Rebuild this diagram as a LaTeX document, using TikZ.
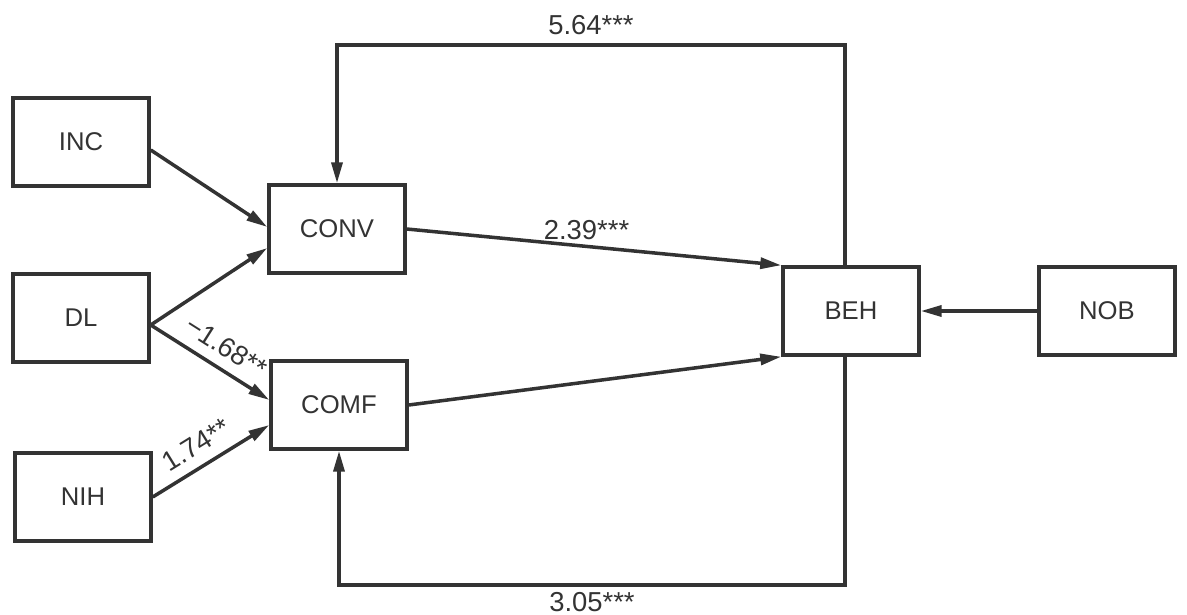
\documentclass[tikz,border=0pt]{standalone}
\usepackage{fontspec}
\setmainfont{Liberation Sans}
\usetikzlibrary{arrows.meta}

\begin{document}
\begin{tikzpicture}[x=0.02cm, y=-0.02cm, >={Triangle[length=0.42cm, width=0.22cm]},
    line width=2pt, color=black!80,
    var/.style={rectangle, draw, minimum width=2.72cm, minimum height=1.76cm,
                inner sep=0pt, font=\fontsize{14.6}{16}\selectfont},
    coef/.style={font=\fontsize{15.6}{17}\selectfont, inner sep=3pt}]

    \useasboundingbox (0,0) rectangle (1187,615);

    \node[var] (INC) at (81,142) {INC};
    \node[var] (DL) at (81,318) {DL};
    \node[var] (NIH) at (83,497) {NIH};
    \node[var] (CONV) at (337,229) {CONV};
    \node[var] (COMF) at (339,405) {COMF};
    \node[var] (BEH) at (851,311) {BEH};
    \node[var] (NOB) at (1107,311) {NOB};

    \coordinate (topbend) at (337,45);
    \coordinate (botbend) at (339,585);

    \draw[->] ([yshift=-0.16cm]INC.east) -- ([yshift=0.04cm]CONV.west);
    \draw[->] ([yshift=-0.14cm]DL.east) -- ([yshift=-0.38cm]CONV.west);
    \draw[->] ([yshift=-0.14cm]DL.east) -- ([yshift=0.1cm]COMF.west) node[coef, pos=0.54, sloped, above=3pt] {−1.68**};
    \draw[->] (NIH.east) -- ([yshift=-0.4cm]COMF.west) node[coef, pos=0.47, sloped, above=3pt] {1.74**};
    \draw[->] (CONV.east) -- (BEH.north west) node[coef, pos=0.48, above] {2.39***};
    \draw[->] (COMF.east) -- (BEH.south west);
    \draw[->] (NOB.west) -- (BEH.east);
    % feedback loops
    \draw[->] ([xshift=-0.12cm]BEH.north) |- (topbend) node[coef, pos=0.75, above=2pt] {5.64***} -- (CONV.north);
    \draw[->] ([xshift=-0.12cm]BEH.south) |- (botbend) node[coef, pos=0.75, below] {3.05***} -- (COMF.south);
\end{tikzpicture}
\end{document}
